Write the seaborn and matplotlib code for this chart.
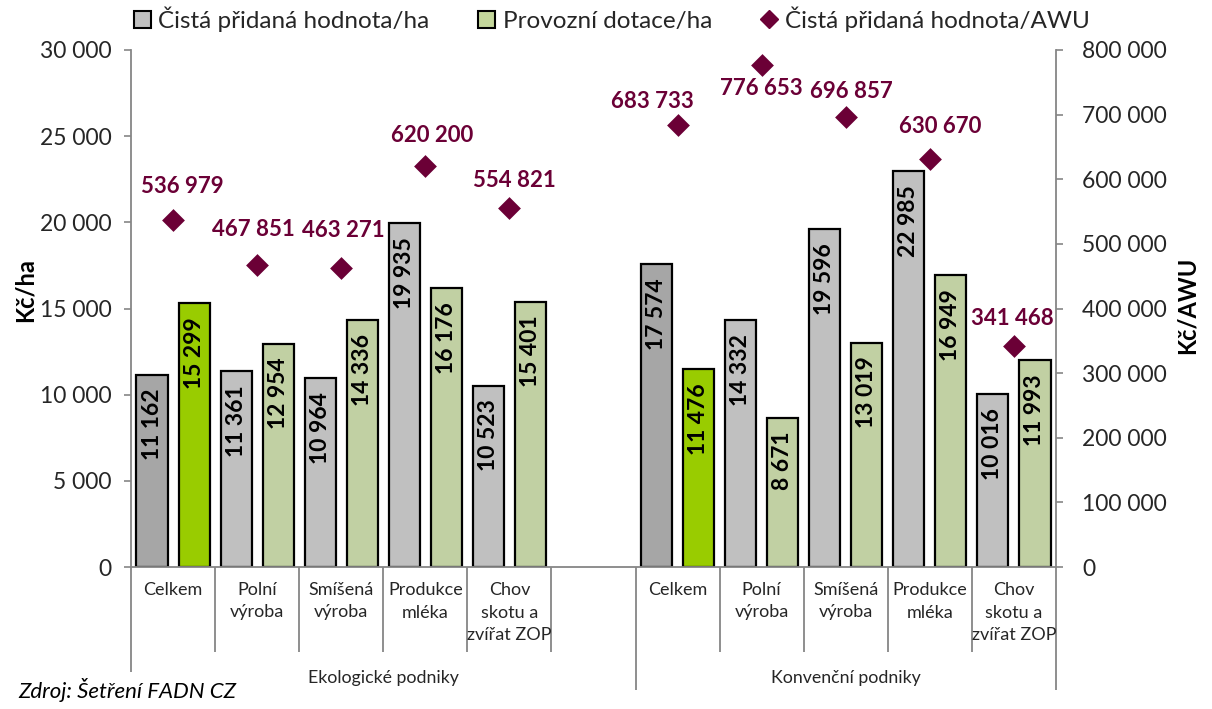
import numpy as np
import pandas as pd
import matplotlib
matplotlib.use("Agg")
import matplotlib.pyplot as plt
from matplotlib.patches import Patch
from matplotlib.lines import Line2D
from matplotlib.ticker import FuncFormatter, MultipleLocator
import seaborn as sns

# ---------------- data ----------------
groups = ["Ekologické podniky", "Konvenční podniky"]
categories = ["Celkem", "Polní\nvýroba", "Smíšená\nvýroba", "Produkce\nmléka",
              "Chov\nskotu a\nzvířat ZOP"]
series = ["Čistá přidaná hodnota/ha", "Provozní dotace/ha", "Čistá přidaná hodnota/AWU"]

eko_cph_ha = [11162, 11361, 10964, 19935, 10523]
eko_dotace_ha = [15299, 12954, 14336, 16176, 15401]
eko_cph_awu = [536979, 467851, 463271, 620200, 554821]

konv_cph_ha = [17574, 14332, 19596, 22985, 10016]
konv_dotace_ha = [11476, 8671, 13019, 16949, 11993]
konv_cph_awu = [683733, 776653, 696857, 630670, 341468]

# ---------------- build tables ----------------
gap_slot = "__mezera__"
order = [f"{groups[0]}|{c}" for c in categories] + [gap_slot] + \
        [f"{groups[1]}|{c}" for c in categories]

rows, awu_rows = [], []
for g, cph, dot, awu in [(groups[0], eko_cph_ha, eko_dotace_ha, eko_cph_awu),
                         (groups[1], konv_cph_ha, konv_dotace_ha, konv_cph_awu)]:
    for c, v1, v2, v3 in zip(categories, cph, dot, awu):
        slot = f"{g}|{c}"
        rows.append({"slot": slot, "ukazatel": series[0], "hodnota": v1})
        rows.append({"slot": slot, "ukazatel": series[1], "hodnota": v2})
        awu_rows.append({"slot": slot, "x": order.index(slot), "hodnota": v3})
df = pd.DataFrame(rows)
df_awu = pd.DataFrame(awu_rows)

# ---------------- style ----------------
sns.set_style("white")
plt.rcParams["font.family"] = ["Lato", "DejaVu Sans"]
plt.rcParams["axes.unicode_minus"] = False

GRAY = "#C0C0C0"
GRAY_DARK = "#A6A6A6"
GREEN = "#C4D79B"
GREEN_DARK = "#99CC00"
MAROON = "#6B0036"
AXC = "#868686"

def fmt(v, pos=None):
    return f"{v:,.0f}".replace(",", " ")

W, H = 1212, 709
fig = plt.figure(figsize=(W / 100, H / 100), dpi=100)
ax = fig.add_axes([131 / W, (H - 567) / H, 925 / W, 517 / H])

sns.barplot(data=df, x="slot", y="hodnota", hue="ukazatel", order=order,
            hue_order=series[:2], palette={series[0]: GRAY, series[1]: GREEN},
            width=1.0, gap=0.26, dodge=True, errorbar=None,
            edgecolor="black", linewidth=1.6, ax=ax, legend=False, zorder=2)

# recolour the "Celkem" bars and label bars
for p in ax.patches:
    h = p.get_height()
    if not np.isfinite(h) or h <= 0:
        continue
    cx = p.get_x() + p.get_width() / 2
    slot = int(round(cx))
    first = cx < slot
    if order[slot].endswith("Celkem"):
        p.set_facecolor(GRAY_DARK if first else GREEN_DARK)
    ax.annotate(fmt(h), (cx, h), xytext=(0, -10), textcoords="offset points",
                rotation=90, ha="center", va="top", fontsize=16.5,
                fontweight="bold", color="black", zorder=3)

ax.set_xlim(-0.5, len(order) - 0.5)
ax.set_ylim(0, 30000)
ax.yaxis.set_major_locator(MultipleLocator(5000))
ax.yaxis.set_major_formatter(FuncFormatter(fmt))
ax.tick_params(axis="y", direction="out", length=5, width=1.2, color=AXC,
               labelsize=16.5, pad=9, labelcolor="#262626")
ax.tick_params(axis="x", bottom=False, labelbottom=False)
ax.set_xlabel("")
ax.set_ylabel("")
ax.grid(False)
for s in ["top", "right"]:
    ax.spines[s].set_visible(False)
for s in ["left", "bottom"]:
    ax.spines[s].set_color(AXC)
    ax.spines[s].set_linewidth(1.3)

# ---------------- secondary axis ----------------
ax2 = ax.twinx()
sns.scatterplot(data=df_awu, x="x", y="hodnota", ax=ax2, marker="D", s=135,
                color=MAROON, edgecolor=MAROON, linewidth=0, legend=False, zorder=5)
ax2.set_xlim(-0.5, len(order) - 0.5)
ax2.set_ylim(0, 800000)
ax2.yaxis.set_major_locator(MultipleLocator(100000))
ax2.yaxis.set_major_formatter(FuncFormatter(fmt))
ax2.tick_params(axis="y", direction="out", length=5, width=1.2, color=AXC,
                labelsize=16.5, pad=14, labelcolor="#262626")
ax2.set_xlabel("")
ax2.set_ylabel("")
ax2.grid(False)
for s in ["top", "left", "bottom"]:
    ax2.spines[s].set_visible(False)
ax2.spines["right"].set_color(AXC)
ax2.spines["right"].set_linewidth(1.3)

# label offsets (pixels, label centre relative to marker)
label_offsets = [(9, 33), (-4, 35), (2, 37), (7, 31), (5, 28),
                 (-25, 24), (0, -23), (6, 25), (10, 33), (-2, 28)]
for (dx, dy), (_, r) in zip(label_offsets, df_awu.iterrows()):
    ax2.annotate(fmt(r["hodnota"]), (r["x"], r["hodnota"]),
                 xytext=(dx * 0.72, dy * 0.72), textcoords="offset points",
                 ha="center", va="center", fontsize=16, fontweight="bold",
                 color=MAROON, zorder=6)

# ---------------- category axis (multi-level) ----------------
tr = ax.get_xaxis_transform()
px = 1 / 517.0
cat_bottom = -(652 - 567) * px
grp_bottom = -(690 - 567) * px
first_bottom = -(672 - 567) * px
for b in np.arange(-0.5, len(order), 1.0):
    if b == -0.5:
        y1 = first_bottom
    elif b in (5.5, len(order) - 0.5):
        y1 = grp_bottom
    else:
        y1 = cat_bottom
    ax.plot([b, b], [0, y1], transform=tr, color=AXC, lw=1.3, clip_on=False,
            solid_capstyle="butt")

for i, s in enumerate(order):
    if s == gap_slot:
        continue
    ax.text(i, -(582 - 567) * px, s.split("|")[1], transform=tr, ha="center",
            va="top", fontsize=13, color="#262626", linespacing=1.5)

ax.text(2.5, -(678 - 567) * px, groups[0], transform=tr, ha="center",
        va="center", fontsize=12.8, color="#262626")
ax.text(8.0, -(678 - 567) * px, groups[1], transform=tr, ha="center",
        va="center", fontsize=12.8, color="#262626")

# ---------------- titles / legend ----------------
fig.text(25 / W, 1 - 290 / H, "Kč/ha", rotation=90, ha="center", va="center",
         fontsize=17, fontweight="bold", color="black")
fig.text(1187 / W, 1 - 305 / H, "Kč/AWU", rotation=90, ha="center", va="center",
         fontsize=17, fontweight="bold", color="black")
fig.text(18 / W, 1 - 690 / H, "Zdroj: Šetření FADN CZ", ha="left", va="center",
         fontsize=16, fontstyle="italic", color="black")

handles = [Patch(facecolor=GRAY, edgecolor="black", linewidth=1.5),
           Patch(facecolor=GREEN, edgecolor="black", linewidth=1.5),
           Line2D([], [], marker="D", ls="", color=MAROON, markersize=9)]
fig.legend(handles, series, loc="center", bbox_to_anchor=(612 / W, 1 - 19 / H),
           ncol=3, frameon=False, fontsize=17.5, handlelength=0.7,
           handleheight=0.7, handletextpad=0.3, columnspacing=2.0,
           borderaxespad=0, borderpad=0)

fig.savefig("out.png", dpi=100)
